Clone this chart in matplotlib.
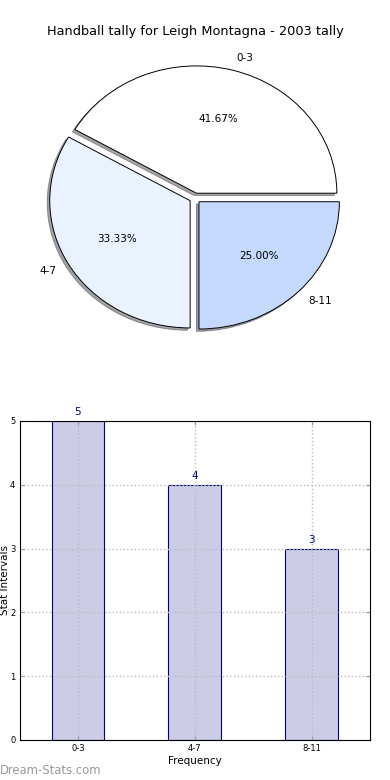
import matplotlib
matplotlib.use('Agg')
import matplotlib.pyplot as plt

# data
intervals = ['0-3', '4-7', '8-11']
tally = [5, 4, 3]
pie_colors = ['#FFFFFF', '#EAF1FF', '#C5D9FE']

fig = plt.figure(figsize=(3.9, 7.8), dpi=100)

# pie on top
ax1 = fig.add_axes([0.05, 0.542, 0.90, 0.408])
ax1.pie(tally, labels=intervals, colors=pie_colors, autopct='%.2f%%',
        explode=[0.04] * len(tally), shadow={'ox': -0.013, 'oy': -0.013}, startangle=0,
        wedgeprops=dict(edgecolor='black', linewidth=0.7),
        textprops=dict(fontsize=7.5))
ax1.set_aspect('auto')
ax1.set_xlim(-1.25, 1.25)
ax1.set_ylim(-1.25, 1.25)
ax1.set_title('Handball tally for Leigh Montagna - 2003 tally', fontsize=9.3, pad=3)

# bar chart below
ax2 = fig.add_axes([0.05, 0.0513, 0.8987, 0.409])
xs = list(range(len(intervals)))
bars = ax2.bar(xs, tally, width=0.45, color='#CCCCE6', edgecolor='#000080', linewidth=0.8)
for b, v in zip(bars, tally):
    ax2.text(b.get_x() + b.get_width() / 2, v + 0.06, str(v), ha='center', va='bottom',
             fontsize=7.5, color='#00008B')
ax2.set_xlim(-0.5, 2.5)
ax2.set_ylim(0, 5)
ax2.set_xticks(xs)
ax2.set_xticklabels(intervals)
ax2.set_yticks(range(0, 6))
ax2.tick_params(direction='in', length=3, color='#999999', labelsize=6, pad=3,
                top=True, right=True)
ax2.grid(True, linestyle=':', color='#BBBBBB', linewidth=1)
ax2.set_axisbelow(False)
for s in ax2.spines.values():
    s.set_zorder(3)
ax2.set_xlabel('Frequency', fontsize=7.5, labelpad=2)
ax2.set_ylabel('Stat Intervals', fontsize=7.5)
ax2.yaxis.set_label_coords(-0.027, 0.5)

fig.text(0.0, 0.0128, 'Dream-Stats.com', fontsize=8.4, color='#999999',
         ha='left', va='center')

fig.savefig('out.png', dpi=100)
